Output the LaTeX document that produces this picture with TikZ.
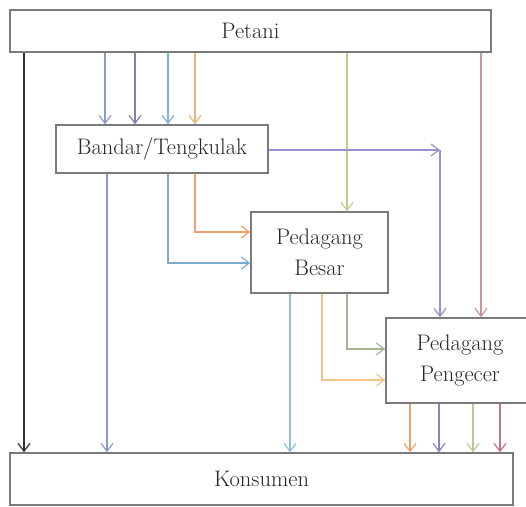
\documentclass[tikz,border=0pt]{standalone}
\usetikzlibrary{arrows.meta}
\definecolor{boxline}{HTML}{7A7A7A}
\definecolor{txt}{HTML}{262626}
\definecolor{cA}{HTML}{8C98D0}
\definecolor{cB}{HTML}{8480A8}
\definecolor{cC}{HTML}{7FB4CC}
\definecolor{cD}{HTML}{EDB27E}
\definecolor{cE}{HTML}{B8D090}
\definecolor{cF}{HTML}{C89494}
\definecolor{cG}{HTML}{9A8ECC}
\definecolor{cH}{HTML}{F0A070}
\definecolor{cI}{HTML}{8EC4D2}
\definecolor{cJ}{HTML}{F2C488}
\definecolor{cK}{HTML}{A4B494}
\definecolor{cL}{HTML}{8A80C4}
\definecolor{cM}{HTML}{B4CC92}
\definecolor{cN}{HTML}{C47484}
\definecolor{cO}{HTML}{7AAACE}
\begin{document}
\begin{tikzpicture}[x=1pt,y=-1pt,
  box/.style={draw=boxline,line width=1.4pt,fill=white,inner sep=0pt,
    text=txt,font=\fontsize{22.5}{31}\selectfont,align=center},
  arr/.style={line width=1.2pt,-{Straight Barb[length=8pt,width=12pt,line width=1.2pt]}}]
\useasboundingbox (0,0) rectangle (526,506);
\node[box,minimum width=481pt,minimum height=42pt] (petani) at (250.5,31) {Petani};
\node[box,minimum width=212pt,minimum height=48pt] (bandar) at (162,149) {Bandar/Tengkulak};
\node[box,minimum width=137pt,minimum height=81pt] (besar) at (319.5,252.5) {Pedagang\\Besar};
\node[box,minimum width=148pt,minimum height=85pt] (pengecer) at (460,360.5) {Pedagang\\Pengecer};
\node[box,minimum width=503pt,minimum height=52pt] (konsumen) at (261.5,479) {Konsumen};
\coordinate (turn) at (440,150);
% Petani
\draw[arr,black!80] (petani.south -| 24,0) -- (konsumen.north -| 24,0);
\draw[arr,cA] (petani.south -| 105,0) -- (bandar.north -| 105,0);
\draw[arr,cB] (petani.south -| 135,0) -- (bandar.north -| 135,0);
\draw[arr,cC] (petani.south -| 168,0) -- (bandar.north -| 168,0);
\draw[arr,cD] (petani.south -| 195,0) -- (bandar.north -| 195,0);
\draw[arr,cE] (petani.south -| 347,0) -- (besar.north -| 347,0);
\draw[arr,cF] (petani.south -| 481,0) -- (pengecer.north -| 481,0);
% Bandar
\draw[arr,cG] (bandar.east |- turn) -- (turn);
\draw[arr,cG] (turn) -- (pengecer.north -| turn);
\draw[arr,cA] (bandar.south -| 107,0) -- (konsumen.north -| 107,0);
\draw[arr,cO] (bandar.south -| 168,0) |- (besar.west |- 0,263);
\draw[arr,cH] (bandar.south -| 195,0) |- (besar.west |- 0,232);
% Besar
\draw[arr,cI] (besar.south -| 290,0) -- (konsumen.north -| 290,0);
\draw[arr,cJ] (besar.south -| 322,0) |- (pengecer.west |- 0,380);
\draw[arr,cK] (besar.south -| 347,0) |- (pengecer.west |- 0,349);
% Pengecer
\draw[arr,cH] (pengecer.south -| 410,0) -- (konsumen.north -| 410,0);
\draw[arr,cL] (pengecer.south -| 439,0) -- (konsumen.north -| 439,0);
\draw[arr,cM] (pengecer.south -| 473,0) -- (konsumen.north -| 473,0);
\draw[arr,cN] (pengecer.south -| 500,0) -- (konsumen.north -| 500,0);
\end{tikzpicture}
\end{document}
